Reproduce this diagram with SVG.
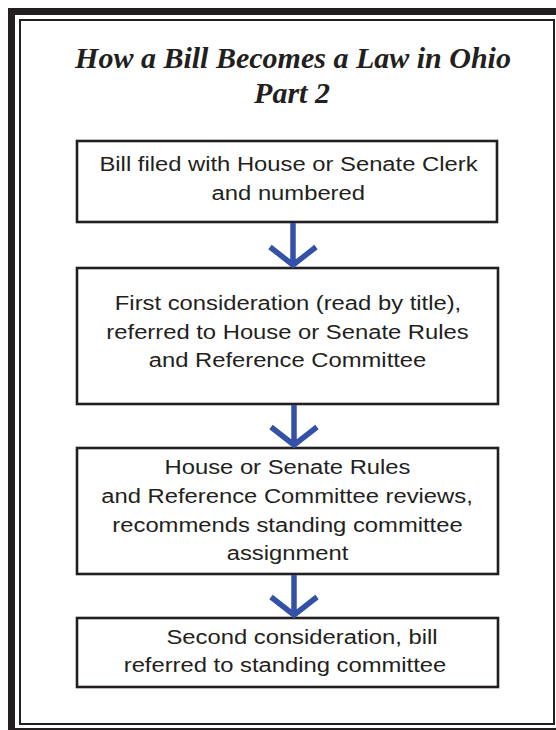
<svg xmlns="http://www.w3.org/2000/svg" width="556" height="730" viewBox="0 0 556 730">
<style>
.frame{fill:none;stroke:#231f20}
.box{fill:#fff;stroke:#231f20;stroke-width:2.6}
.t{font-family:"Liberation Sans",Arial,sans-serif;font-size:20px;fill:#231f20;text-anchor:middle}
.title{font-family:"Liberation Serif","Times New Roman",serif;font-size:30px;font-weight:bold;font-style:italic;fill:#231f20;text-anchor:middle}
.arr{fill:none;stroke:#3451a8;stroke-width:5.5}
</style>
<rect width="556" height="730" fill="#fff"/>
<rect class="frame" x="11.5" y="11.5" width="556" height="720" stroke-width="7"/>
<rect class="frame" x="20" y="20" width="534" height="704" stroke-width="2"/>
<g id="title">
<text class="title" x="293" y="68">How a Bill Becomes a Law in Ohio</text>
<text class="title" x="292" y="103">Part 2</text>
</g>
<g id="node1">
<rect class="box" x="77" y="141" width="420" height="81"/>
<text class="t" transform="translate(288.5 171) scale(1.19 1)">Bill filed with House or Senate Clerk</text>
<text class="t" transform="translate(288.3 200) scale(1.19 1)">and numbered</text>
</g>
<g id="node2">
<rect class="box" x="77" y="268" width="421" height="136"/>
<text class="t" transform="translate(288 310) scale(1.19 1)">First consideration (read by title),</text>
<text class="t" transform="translate(287.5 339) scale(1.19 1)">referred to House or Senate Rules</text>
<text class="t" transform="translate(287.5 367) scale(1.19 1)">and Reference Committee</text>
</g>
<g id="node3">
<rect class="box" x="77" y="448" width="421" height="126"/>
<text class="t" transform="translate(287.5 474) scale(1.19 1)">House or Senate Rules</text>
<text class="t" transform="translate(287 503) scale(1.19 1)">and Reference Committee reviews,</text>
<text class="t" transform="translate(287.5 532) scale(1.19 1)">recommends standing committee</text>
<text class="t" transform="translate(287.5 560) scale(1.19 1)">assignment</text>
</g>
<g id="node4">
<rect class="box" x="77" y="618" width="421" height="69"/>
<text class="t" transform="translate(302 644) scale(1.19 1)">Second consideration, bill</text>
<text class="t" transform="translate(285 672) scale(1.19 1)">referred to standing committee</text>
</g>
<g id="connectors">
<path class="arr" d="M293 223V265M270 247L293 265L316 247"/>
<path class="arr" d="M294 405V445M271 427L294 445L317 427"/>
<path class="arr" d="M294 575V615M271 597L294 615L317 597"/>
</g>
</svg>
